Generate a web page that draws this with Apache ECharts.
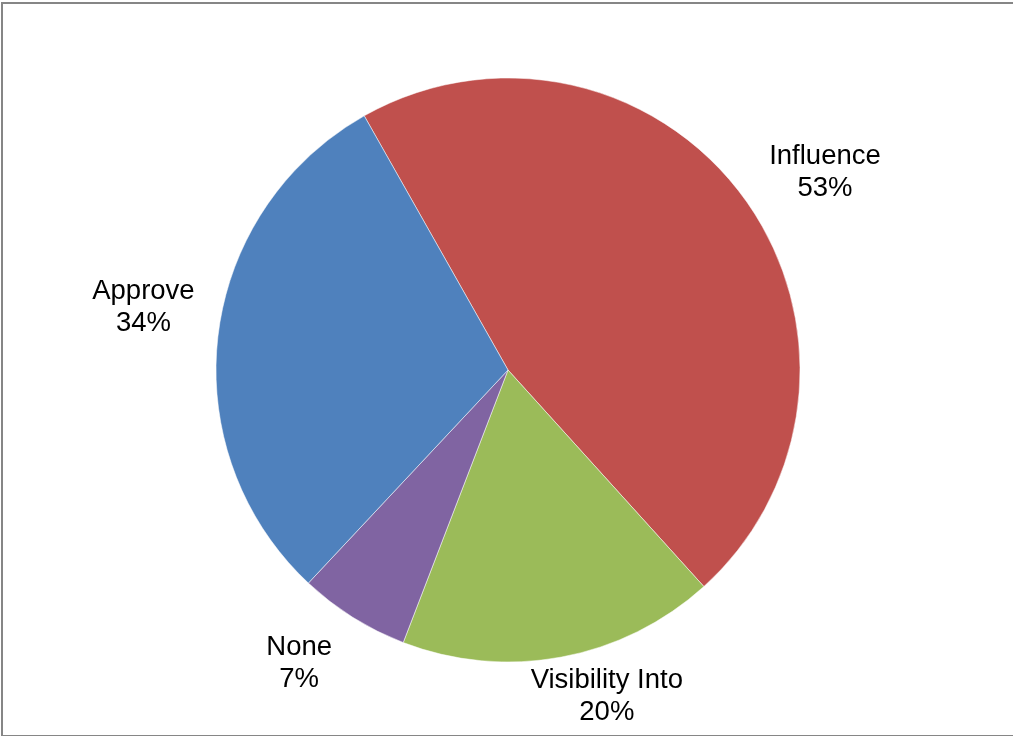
<!DOCTYPE html>
<html>
<head>
<meta charset="utf-8">
<title>Pie</title>
<script src="https://cdn.jsdelivr.net/npm/echarts@6/dist/echarts.min.js"></script>
<style>
  html, body { margin: 0; padding: 0; background: #fff; }
  #chart { width: 1013px; height: 736px; }
</style>
</head>
<body>
<div id="chart"></div>
<script>
// Slice names and the shares printed on each label (percent)
const categories = ['Influence', 'Visibility Into', 'None', 'Approve'];
const shares = [53, 20, 7, 34];
const sliceColors = ['#C0504D', '#9BBB59', '#8064A2', '#4F81BD'];

// Pie geometry
const CENTER = [508, 370];
const RADIUS = 292;
const START_ANGLE = 119.5;      // ECharts convention: degrees counter-clockwise from 3 o'clock
const LABEL_GAP = 25;           // space between rim and the nearest side of a label box
const LABEL_BIAS = 3.5;         // labels sit slightly clockwise of the slice middle
const LABEL_DY = 3.5;           // optical correction for the text's visual centre
const FRAME_MARGIN = 11;

const chart = echarts.init(document.getElementById('chart'), null, { renderer: 'canvas' });

const total = shares.reduce((a, b) => a + b, 0);

// Place each label just outside the rim, keep it inside the frame,
// and slide it sideways if the frame pushes it back onto the pie.
function placeLabel(params) {
  const i = params.dataIndex;
  let before = 0;
  for (let k = 0; k < i; k++) before += shares[k];
  const startCw = 90 - START_ANGLE; // clockwise from 12 o'clock
  const mid = startCw + (before + shares[i] / 2) / total * 360 + LABEL_BIAS;
  const a = mid * Math.PI / 180;
  const ux = Math.sin(a), uy = -Math.cos(a);
  const hw = params.labelRect.width / 2;
  const hh = params.labelRect.height / 2;
  const bx = Math.abs(ux) > 1e-6 ? hw / Math.abs(ux) : Infinity;
  const by = Math.abs(uy) > 1e-6 ? hh / Math.abs(uy) : Infinity;
  const d = RADIUS + LABEL_GAP + Math.min(bx, by);
  const W = chart.getWidth(), H = chart.getHeight();
  let x = CENTER[0] + ux * d;
  let y = CENTER[1] + uy * d;
  x = Math.min(Math.max(x, FRAME_MARGIN + hw), W - FRAME_MARGIN - hw);
  y = Math.min(Math.max(y, FRAME_MARGIN + hh), H - FRAME_MARGIN - hh);
  const nx = Math.min(Math.max(CENTER[0], x - hw), x + hw);
  const ny = Math.min(Math.max(CENTER[1], y - hh), y + hh);
  if (Math.hypot(nx - CENTER[0], ny - CENTER[1]) < RADIUS) {
    const vy = Math.abs(ny - CENTER[1]);
    const hx = Math.sqrt(Math.max(0, RADIUS * RADIUS - vy * vy));
    x = ux >= 0 ? CENTER[0] + hx + hw : CENTER[0] - hx - hw;
  }
  return { x: x - 1.5, y: y + LABEL_DY, align: 'center', verticalAlign: 'middle' };
}

const option = {
  backgroundColor: '#ffffff',
  animation: false,
  graphic: [
    {
      type: 'rect',
      silent: true,
      shape: { x: 2, y: 3, width: 1030, height: 733 },
      style: { fill: 'none', stroke: '#868686', lineWidth: 2 }
    }
  ],
  series: [
    {
      type: 'pie',
      center: CENTER,
      radius: RADIUS,
      startAngle: START_ANGLE,
      clockwise: true,
      avoidLabelOverlap: false,
      emphasis: { disabled: true },
      itemStyle: { borderColor: '#ffffff', borderWidth: 0.5 },
      label: {
        show: true,
        position: 'outside',
        formatter: p => p.name + '\n' + p.value + '%',
        color: '#000000',
        fontFamily: '"Liberation Sans", Arial, sans-serif',
        fontSize: 27.5,
        lineHeight: 32,
        align: 'center'
      },
      labelLine: { show: false },
      labelLayout: placeLabel,
      data: categories.map((name, i) => ({
        name: name,
        value: shares[i],
        itemStyle: { color: sliceColors[i] }
      }))
    }
  ]
};

chart.setOption(option);
</script>
</body>
</html>
